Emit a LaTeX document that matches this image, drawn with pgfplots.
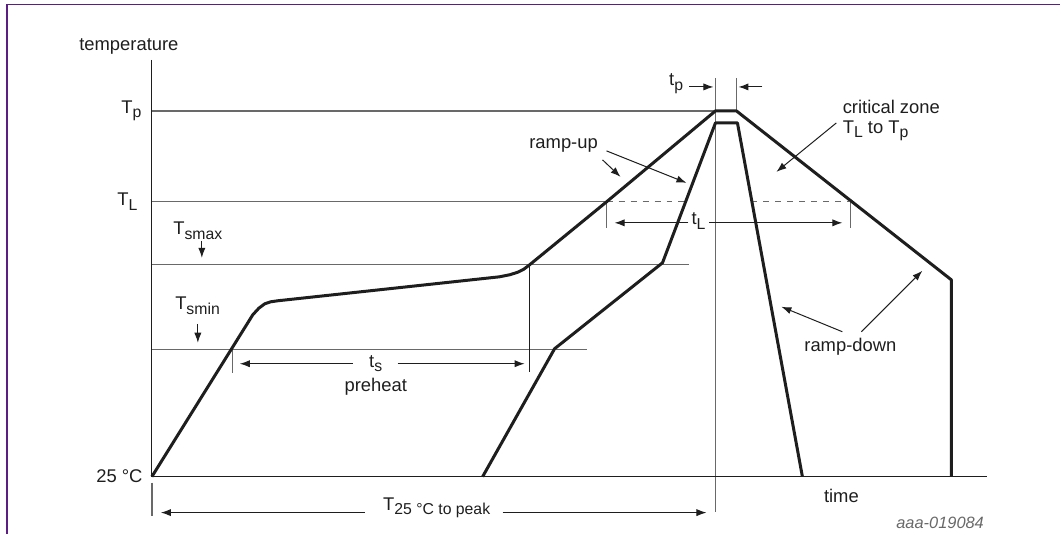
\documentclass[border=0pt]{standalone}
\usepackage{pgfplots}
\pgfplotsset{compat=1.18}
\usepackage{fontspec}
\setmainfont{Liberation Sans}
\usetikzlibrary{arrows.meta}
\definecolor{frame}{RGB}{92,30,130}
\definecolor{refgray}{RGB}{105,105,105}
\definecolor{ink}{RGB}{30,30,30}
\newcommand\sub[1]{\raisebox{-2.3pt}{\fontsize{7.9}{8}\selectfont #1}}
\tikzset{
  prof/.style  = {line width=1.5pt, ink, line join=round},
  ref/.style   = {line width=0.65pt, refgray},
  ann/.style   = {line width=0.5pt, ink, -{Latex[length=5pt,width=3.6pt]}},
  lbl/.style   = {font=\fontsize{9.2}{10}\selectfont, text=ink, inner sep=0pt},
}
\begin{document}
\begin{tikzpicture}
\begin{axis}[
  hide axis, scale only axis,
  width=530.5pt, height=267pt,
  xmin=0, xmax=1061, ymin=0, ymax=534,
  y dir=reverse, clip=false,
]
% keep the whole 1061 x 534 area in the picture
\path (0,0) rectangle (1061,534);
% frame
\draw[frame, line width=0.8pt] (7,534) -- (7,4.5) -- (1061,4.5);

% reference levels (pixel-like units, y downwards)
\addplot[ref] coordinates {(152,111) (716,111)};          % Tp
\addplot[ref] coordinates {(152,202) (607,202)};          % TL
\addplot[ref, dashed] coordinates {(607,202) (685,202)};
\addplot[ref, dashed] coordinates {(752,202) (850,202)};
\addplot[ref] coordinates {(152,265) (690,265)};          % Tsmax
\addplot[ref] coordinates {(152,350) (587,350)};          % Tsmin
\addplot[ref] coordinates {(716,78) (716,512)};
\addplot[ref] coordinates {(737,78) (737,111)};
\addplot[ref] coordinates {(607,202) (607,228)};
\addplot[ref] coordinates {(851,202) (851,228)};
\addplot[ref] coordinates {(233,350) (233,373)};
\addplot[line width=0.5pt, ink] coordinates {(530,265) (530,372)};
\addplot[ref] coordinates {(152,483) (152,516)};

% axes
\addplot[line width=0.6pt, ink] coordinates {(152,60) (152,477)};
\addplot[line width=0.7pt, ink] coordinates {(152,477) (988,477)};

% slow profile
\addplot[prof] coordinates {
  (152,477) (253,315) (259,308.5) (265,304) (271,302) (278,301)
  (500,277) (510,275) (518,272.5) (524,269.5) (530,265)
  (607,202) (716,111) (737,111) (952,280) (952,477)};
% fast profile
\addplot[prof] coordinates {
  (483,477) (555,349) (663,263) (716,123) (738,123) (803,477)};

% annotation arrows
\draw[ann] (202,241) -- (202,258);
\draw[ann] (198,324) -- (198,343);
\draw[ann] (353,364) -- (240,364);
\draw[ann] (398,364) -- (525,364);
\draw[ann] (365,513) -- (161,513);
\draw[ann] (503,513) -- (707,513);
\draw[ann] (689,223) -- (615,223);
\draw[ann] (710,223) -- (843,223);
\draw[ann] (690,87) -- (714,87);
\draw[ann] (763,87) -- (739,87);
\draw[ann] (603,160) -- (621,177);
\draw[ann] (607,151) -- (687,183);
\draw[ann] (837,123) -- (777,172);
\draw[ann] (843,332) -- (782,307);
\draw[ann] (862,332) -- (923,271);

% labels
\node[lbl] at (129,47) {temperature};
\node[lbl, anchor=east] at (142,111) {T\sub{p}};
\node[lbl, anchor=east] at (138,202) {T\sub{L}};
\node[lbl, anchor=west] at (173,231) {T\sub{smax}};
\node[lbl, anchor=west] at (175,306) {T\sub{smin}};
\node[lbl] at (376,364) {t\sub{s}};
\node[lbl] at (376,387) {preheat};
\node[lbl, anchor=east] at (143,477) {25 °C};
\node[lbl, anchor=west] at (383,508) {T\sub{25 °C to peak}};
\node[lbl] at (842,496) {time};
\node[lbl, anchor=east, text=refgray, font=\fontsize{8.2}{9}\selectfont\itshape] at (985,523) {aaa-019084};
\node[lbl, anchor=east] at (684,84) {t\sub{p}};
\node[lbl] at (699,221) {t\sub{L}};
\node[lbl] at (564,146) {ramp-up};
\node[lbl, anchor=west] at (843,107) {critical zone};
\node[lbl, anchor=west] at (843,131) {T\sub{L} to T\sub{p}};
\node[lbl] at (851,347) {ramp-down};
\end{axis}
\end{tikzpicture}
\end{document}
